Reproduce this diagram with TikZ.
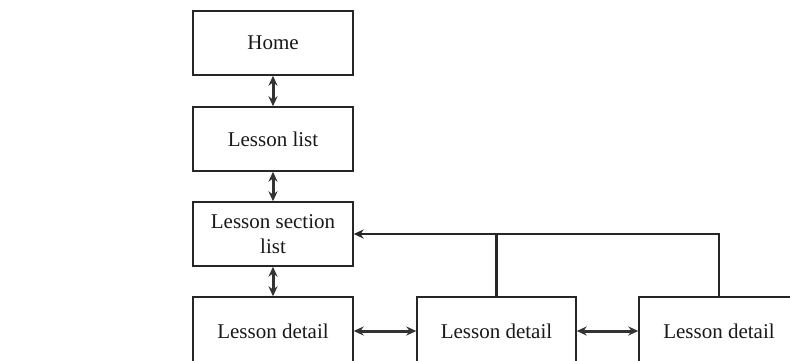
\documentclass[tikz,border=0pt]{standalone}
\usepackage{fontspec}
\setmainfont{Liberation Serif}
\usetikzlibrary{arrows.meta}
\begin{document}
\begin{tikzpicture}[x=1pt,y=-1pt,
  box/.style={draw=black!85,line width=1.4pt,minimum width=160pt,minimum height=64pt,
    inner sep=0pt,align=center,font=\fontsize{21}{25}\selectfont,text=black!90},
  link/.style={line width=3pt,draw=black!80,{Stealth[length=10pt,width=9pt]}-{Stealth[length=10pt,width=9pt]}},
  feed/.style={line width=2.8pt,draw=black!85,-{Stealth[length=10pt,width=9pt]}}]
\useasboundingbox (0,0) rectangle (790,360);
\clip (0,0) rectangle (790,360);
\node[box] (home) at (273,43) {Home};
\node[box] (list) at (273,139) {Lesson list};
\node[box] (section) at (273,234) {Lesson section\\list};
\node[box,minimum height=68pt] (d1) at (273,331) {Lesson detail};
\node[box,minimum width=159pt,minimum height=68pt] (d2) at (496.5,331) {Lesson detail};
\node[box,minimum height=68pt] (d3) at (719,331) {Lesson detail};
\draw[link] (home) -- (list);
\draw[link] (list) -- (section);
\draw[link] (section) -- (d1);
\draw[link] (d1) -- (d2);
\draw[link] (d2) -- (d3);
\draw[feed] (d3.north) |- (section.east);
\draw[line width=2.8pt,draw=black!85] (d2.north) -- (d2.north |- section.east);
\end{tikzpicture}
\end{document}
